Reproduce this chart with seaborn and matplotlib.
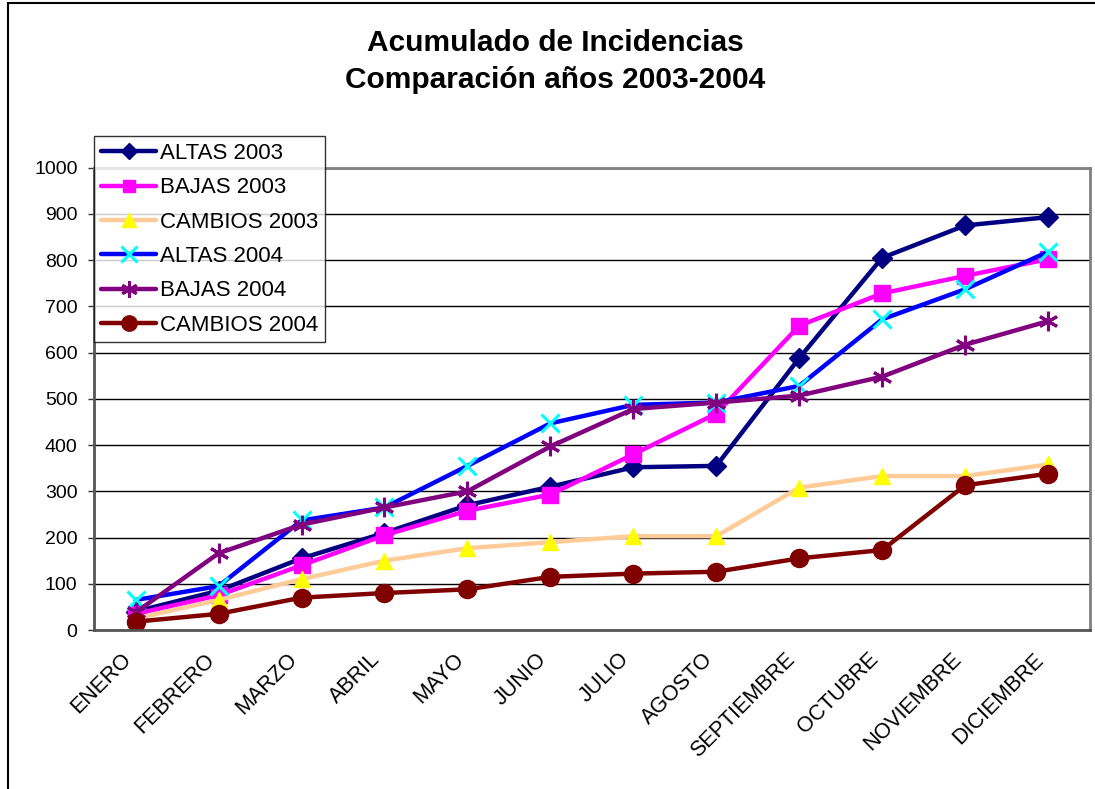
import numpy as np
import pandas as pd
import matplotlib
matplotlib.use("Agg")
import matplotlib.pyplot as plt
import matplotlib.transforms as mtransforms
import seaborn as sns
from matplotlib.patches import Rectangle

# Data
meses = ['ENERO', 'FEBRERO', 'MARZO', 'ABRIL', 'MAYO', 'JUNIO', 'JULIO',
         'AGOSTO', 'SEPTIEMBRE', 'OCTUBRE', 'NOVIEMBRE', 'DICIEMBRE']
altas_2003 = [40, 85, 155, 210, 270, 310, 352, 355, 588, 805, 875, 893]
bajas_2003 = [35, 75, 140, 205, 258, 293, 380, 468, 658, 728, 766, 802]
cambios_2003 = [25, 65, 110, 150, 177, 190, 203, 203, 308, 333, 333, 358]
altas_2004 = [65, 95, 237, 265, 355, 447, 487, 492, 528, 672, 737, 818]
bajas_2004 = [38, 166, 228, 265, 300, 397, 478, 492, 507, 548, 617, 668]
cambios_2004 = [18, 35, 70, 80, 88, 115, 122, 126, 155, 173, 313, 338]

# name, values, line colour, marker, marker size, face, edge, edge width
series = [
    ('ALTAS 2003', altas_2003, '#000080', 'D', 10, '#000080', '#000080', 1.0),
    ('BAJAS 2003', bajas_2003, '#FF00FF', 's', 11, '#FF00FF', '#FF00FF', 1.0),
    ('CAMBIOS 2003', cambios_2003, '#FFCC99', '^', 12, '#FFFF00', '#FFFF00', 1.0),
    ('ALTAS 2004', altas_2004, '#0000FF', 'x', 13, '#00FFFF', '#00FFFF', 2.2),
    ('BAJAS 2004', bajas_2004, '#800080', (6, 2, 0), 14, '#800080', '#800080', 2.2),
    ('CAMBIOS 2004', cambios_2004, '#800000', 'o', 13, '#800000', '#800000', 1.0),
]

sns.set_style('white', rc={'text.color': 'black', 'xtick.color': 'black',
                           'ytick.color': 'black', 'axes.labelcolor': 'black'})
plt.rcParams['font.family'] = ['Liberation Sans', 'DejaVu Sans']

fig = plt.figure(figsize=(10.95, 7.89), dpi=100)
ax = fig.add_axes([0.086, 0.2015, 0.909, 0.586])

pos = np.arange(len(meses))
for name, vals, color, marker, ms, mfc, mec, mew in series:
    df = pd.DataFrame({'x': pos, 'y': vals})
    sns.lineplot(data=df, x='x', y='y', ax=ax, color=color, linewidth=3.2,
                 marker=marker, markersize=ms, markerfacecolor=mfc,
                 markeredgecolor=mec, markeredgewidth=mew, label=name)

ax.set_xlim(-0.5, len(meses) - 0.5)
ax.set_ylim(0, 1000)
ax.set_yticks(np.arange(0, 1001, 100))
ax.set_xticks(pos)
ax.set_xticklabels(meses, rotation=45, ha='right', va='center',
                   rotation_mode='anchor', fontsize=15.5)
ax.set_xticks(np.arange(-0.5, len(meses), 1), minor=True)
ax.tick_params(axis='x', which='major', length=0, pad=14)
ax.tick_params(axis='x', which='minor', length=6, width=1, color='#333333', direction='out')
ax.tick_params(axis='y', length=4, width=1, color='#333333', labelsize=14, left=True, pad=8)

# nudge the month labels a bit left and down (after tick_params, which resets them)
shift = mtransforms.ScaledTranslation(-7 / 100, -7 / 100, fig.dpi_scale_trans)
for lab in ax.xaxis.get_majorticklabels():
    lab.set_transform(lab.get_transform() + shift)

ax.set_xlabel('')
ax.set_ylabel('')
ax.yaxis.grid(True, color='black', linewidth=1)
ax.set_axisbelow(True)
for side in ['top', 'right']:
    ax.spines[side].set_color('#808080')
    ax.spines[side].set_linewidth(2)
for side in ['left', 'bottom']:
    ax.spines[side].set_color('#555555')
    ax.spines[side].set_linewidth(2)

ax.legend(loc='upper left', bbox_to_anchor=(0.086, 0.827), bbox_transform=fig.transFigure,
          fontsize=16, frameon=True, fancybox=False, edgecolor='black',
          borderpad=0.3, labelspacing=0.6, handlelength=2.5, handletextpad=0.15,
          borderaxespad=0, markerscale=0.85)
ax.get_legend().get_frame().set_linewidth(1)

fig.text(0.507, 0.946, 'Acumulado de Incidencias', ha='center', va='center',
         fontsize=21.5, fontweight='bold')
fig.text(0.507, 0.898, 'Comparación años 2003-2004', ha='center', va='center',
         fontsize=21.5, fontweight='bold')

fig.patches.append(Rectangle((0.007, -0.01), 1.1, 1.006, transform=fig.transFigure,
                             fill=False, edgecolor='black', linewidth=1.5))

fig.savefig('out.png', dpi=100)
